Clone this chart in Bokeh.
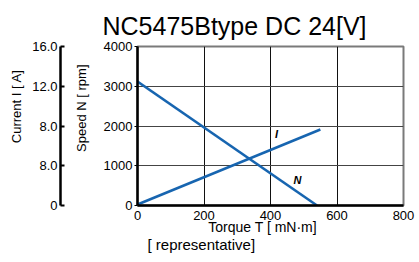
from bokeh.plotting import figure
from bokeh.models import Range1d, LinearAxis, Title, FixedTicker, ColumnDataSource
from bokeh.core.properties import value
from bokeh.embed import file_html
from bokeh.resources import INLINE

torque = [0, 540]
speed = [3120, 0]
torque_i = [0, 550]
current = [0.1, 7.65]
x_ticks = [0, 200, 400, 600, 800]
speed_ticks = [0, 1000, 2000, 3000, 4000]
current_ticks = [0, 4, 8, 12, 16]
current_tick_labels = ["0", "8.0", "8.0", "12.0", "16.0"]
curve_labels = ["I", "N"]
curve_label_x = [418, 481]
curve_label_y = [1810, 630]

FONT = "Liberation Sans"
BLUE = "#1765b0"
NB = "\u00a0"

p = figure(width=419, height=262, output_backend="svg", toolbar_location=None,
           x_range=Range1d(0, 800), y_range=Range1d(0, 4000),
           min_border_left=137, min_border_right=16, min_border_top=46, min_border_bottom=57)
p.extra_y_ranges = {"cur": Range1d(0, 16)}
p.background_fill_color = "white"
p.border_fill_color = "white"
p.outline_line_color = "#7a7a7a"
p.outline_line_width = 2

p.title = Title(text="NC5475Btype DC 24[V]", align="left", offset=-35,
                text_font=FONT, text_font_size="25px", text_font_style="normal",
                standoff=13, text_color="black")

p.xgrid.grid_line_color = "#111111"
p.ygrid.grid_line_color = "#444444"
p.xgrid.grid_line_width = 1
p.ygrid.grid_line_width = 1
p.xaxis.ticker = FixedTicker(ticks=x_ticks)
p.yaxis.ticker = FixedTicker(ticks=speed_ticks)

xa = p.xaxis[0]
xa.axis_line_width = 2.5
xa.axis_line_color = "black"
xa.major_tick_out = 0
xa.major_tick_in = 0
xa.minor_tick_out = 0
xa.minor_tick_in = 0
xa.major_label_standoff = 5
xa.major_label_text_font = FONT
xa.major_label_text_font_size = "13px"
xa.major_label_text_color = "black"
xa.axis_label = "Torque T [ mN·m]" + NB * 4
xa.axis_label_text_font = FONT
xa.axis_label_text_font_size = "14px"
xa.axis_label_text_font_style = "normal"
xa.axis_label_text_color = "black"
xa.axis_label_standoff = -4

ya = p.yaxis[0]
ya.axis_line_width = 2.5
ya.axis_line_color = "black"
ya.major_tick_out = 3
ya.major_tick_in = 0
ya.minor_tick_out = 0
ya.minor_tick_in = 0
ya.major_label_standoff = 2
ya.major_label_text_font = FONT
ya.major_label_text_font_size = "13px"
ya.major_label_text_color = "black"
ya.axis_label = None

p.add_layout(Title(text="[ representative]", align="left", offset=10,
                   text_font=FONT, text_font_size="15px", text_font_style="normal",
                   text_color="black", standoff=-7), "below")

p.add_layout(Title(text="Speed N [ rpm]", align="right", offset=18,
                   text_font=FONT, text_font_size="13px", text_font_style="normal",
                   text_color="black", standoff=23), "left")

ca = LinearAxis(y_range_name="cur", ticker=FixedTicker(ticks=current_ticks))
ca.major_label_overrides = {t: l for t, l in zip(current_ticks, current_tick_labels)}
ca.axis_line_width = 2.5
ca.axis_line_color = "black"
ca.major_tick_in = 4
ca.major_tick_out = 0
ca.major_tick_line_width = 2
ca.minor_tick_in = 0
ca.minor_tick_out = 0
ca.major_label_standoff = 3
ca.major_label_text_font = FONT
ca.major_label_text_font_size = "13px"
ca.major_label_text_color = "black"
p.add_layout(ca, "left")
p.add_layout(Title(text="Current I [ A]", align="right", offset=23,
                   text_font=FONT, text_font_size="13px", text_font_style="normal",
                   text_color="black", standoff=11), "left")

p.line(torque, speed, line_color=BLUE, line_width=2.5)
p.line(torque_i, current, y_range_name="cur", line_color=BLUE, line_width=2.5)

src = ColumnDataSource(dict(x=curve_label_x, y=curve_label_y, t=curve_labels))
p.text("x", "y", text="t", source=src, text_font=value(FONT), text_font_size="11px",
       text_font_style="bold italic", text_align="center", text_baseline="middle",
       text_color="black")

open("out.html", "w").write(file_html(p, INLINE))
